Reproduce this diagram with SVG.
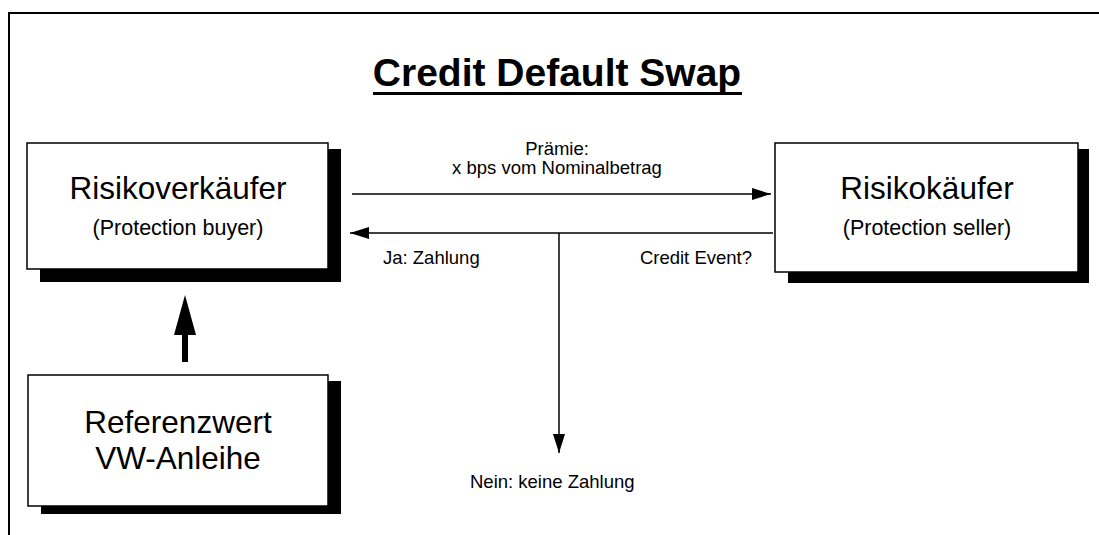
<svg xmlns="http://www.w3.org/2000/svg" width="1099" height="535" viewBox="0 0 1099 535">
<style>
text{font-family:"Liberation Sans",Arial,sans-serif;fill:#000}
.box{fill:#fff;stroke:#000;stroke-width:1.5}
.sh{fill:#000}
.big{font-size:31.5px}
.sub{font-size:21.5px}
.lbl{font-size:18.5px}
.ln{stroke:#000;stroke-width:1.5;fill:none}
</style>
<defs>
<marker id="ah" viewBox="0 0 19 12" refX="19" refY="6" markerWidth="19" markerHeight="12" markerUnits="userSpaceOnUse" orient="auto">
<path d="M0,0 L19,6 L0,12 Z" fill="#000"/>
</marker>
</defs>
<rect width="1099" height="535" fill="#fff"/>
<path d="M9,535 V13 H1099" fill="none" stroke="#000" stroke-width="2"/>
<g id="title">
<text x="557" y="86" text-anchor="middle" font-size="39" font-weight="bold">Credit Default Swap</text>
<rect x="373" y="92" width="369" height="3" fill="#000"/>
</g>
<g id="buyer">
<rect class="sh" x="40" y="149" width="301" height="133"/>
<rect class="box" x="27" y="143" width="301" height="126"/>
<text class="big" x="178" y="199" text-anchor="middle">Risikoverkäufer</text>
<text class="sub" x="178" y="235" text-anchor="middle">(Protection buyer)</text>
</g>
<g id="seller">
<rect class="sh" x="788" y="149" width="301" height="134"/>
<rect class="box" x="775" y="143" width="303" height="129"/>
<text class="big" x="927" y="199" text-anchor="middle">Risikokäufer</text>
<text class="sub" x="927" y="235" text-anchor="middle">(Protection seller)</text>
</g>
<g id="reference">
<rect class="sh" x="41" y="381" width="300" height="133"/>
<rect class="box" x="28" y="375" width="300" height="131"/>
<text class="big" x="178" y="433" text-anchor="middle">Referenzwert</text>
<text class="big" x="178" y="469" text-anchor="middle">VW-Anleihe</text>
</g>
<g id="connectors">
<line class="ln" x1="352" y1="194" x2="771" y2="194" marker-end="url(#ah)"/>
<line class="ln" x1="773" y1="233" x2="350" y2="233" marker-end="url(#ah)"/>
<line class="ln" x1="559" y1="233" x2="559" y2="453" marker-end="url(#ah)"/>
<rect x="182" y="333" width="6" height="29" fill="#000"/>
<path d="M174,335 L185,295 L196,335 Z" fill="#000"/>
</g>
<g id="labels">
<text class="lbl" x="557" y="155" text-anchor="middle">Prämie:</text>
<text class="lbl" x="557" y="174" text-anchor="middle">x bps vom Nominalbetrag</text>
<text class="lbl" x="383" y="264">Ja: Zahlung</text>
<text class="lbl" x="752" y="264" text-anchor="end">Credit Event?</text>
<text class="lbl" x="470" y="488">Nein: keine Zahlung</text>
</g>
</svg>
